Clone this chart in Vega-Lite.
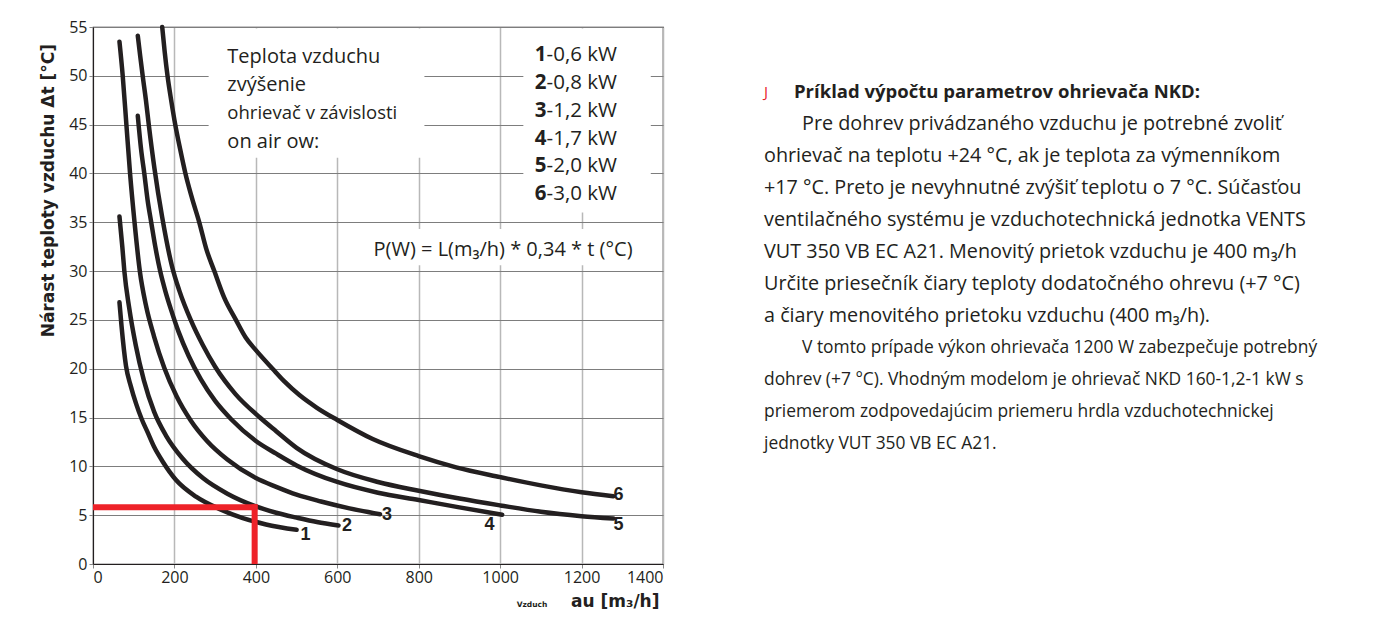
{
  "$schema": "https://vega.github.io/schema/vega-lite/v6.json",
  "background": "white",
  "padding": {"left": 38, "top": 18, "right": 0, "bottom": 0},
  "spacing": 99,
  "datasets": {
    "curves": [
      {"c":"1","x":65,"y":26.8},{"c":"1","x":70,"y":24.4},{"c":"1","x":81,"y":20.3},{"c":"1","x":93,"y":18.2},{"c":"1","x":106,"y":16.4},{"c":"1","x":120,"y":14.8},{"c":"1","x":134,"y":13.5},{"c":"1","x":150,"y":12.0},{"c":"1","x":171,"y":10.5},{"c":"1","x":204,"y":8.6},{"c":"1","x":253,"y":6.9},{"c":"1","x":310,"y":5.65},{"c":"1","x":368,"y":4.7},{"c":"1","x":425,"y":4.05},{"c":"1","x":500,"y":3.5},
      {"c":"2","x":65,"y":35.6},{"c":"2","x":72,"y":32.5},{"c":"2","x":77,"y":30},{"c":"2","x":89,"y":26.2},{"c":"2","x":105,"y":22.4},{"c":"2","x":125,"y":18.8},{"c":"2","x":150,"y":15.6},{"c":"2","x":180,"y":13.1},{"c":"2","x":220,"y":10.8},{"c":"2","x":270,"y":8.8},{"c":"2","x":330,"y":7.2},{"c":"2","x":400,"y":5.9},{"c":"2","x":450,"y":5.25},{"c":"2","x":500,"y":4.75},{"c":"2","x":550,"y":4.3},{"c":"2","x":603,"y":3.95},
      {"c":"3","x":65,"y":53.5},{"c":"3","x":73,"y":50},{"c":"3","x":82,"y":45},{"c":"3","x":91,"y":40},{"c":"3","x":102,"y":35},{"c":"3","x":115,"y":30},{"c":"3","x":130,"y":26.5},{"c":"3","x":150,"y":23.3},{"c":"3","x":175,"y":20.1},{"c":"3","x":205,"y":17.2},{"c":"3","x":240,"y":14.7},{"c":"3","x":280,"y":12.6},{"c":"3","x":330,"y":10.7},{"c":"3","x":400,"y":8.8},{"c":"3","x":450,"y":7.9},{"c":"3","x":500,"y":7.1},{"c":"3","x":560,"y":6.4},{"c":"3","x":630,"y":5.7},{"c":"3","x":705,"y":5.1},
      {"c":"4","x":110,"y":45.9},{"c":"4","x":118,"y":42.5},{"c":"4","x":126,"y":40},{"c":"4","x":134,"y":37.3},{"c":"4","x":143,"y":35},{"c":"4","x":153,"y":32.5},{"c":"4","x":165,"y":30},{"c":"4","x":178,"y":27.9},{"c":"4","x":192,"y":26},{"c":"4","x":210,"y":23.8},{"c":"4","x":235,"y":21.3},{"c":"4","x":265,"y":18.9},{"c":"4","x":300,"y":16.7},{"c":"4","x":340,"y":14.8},{"c":"4","x":400,"y":12.6},{"c":"4","x":450,"y":11.3},{"c":"4","x":500,"y":10.1},{"c":"4","x":600,"y":8.4},{"c":"4","x":700,"y":7.3},{"c":"4","x":800,"y":6.55},{"c":"4","x":900,"y":5.8},{"c":"4","x":1005,"y":5.05},
      {"c":"5","x":110,"y":54.1},{"c":"5","x":116,"y":52},{"c":"5","x":122,"y":50},{"c":"5","x":130,"y":47.5},{"c":"5","x":137,"y":45},{"c":"5","x":151,"y":40.5},{"c":"5","x":170,"y":35.5},{"c":"5","x":194,"y":30.5},{"c":"5","x":212,"y":28},{"c":"5","x":240,"y":25},{"c":"5","x":270,"y":22.4},{"c":"5","x":300,"y":20.2},{"c":"5","x":350,"y":17.4},{"c":"5","x":410,"y":15},{"c":"5","x":450,"y":13.6},{"c":"5","x":500,"y":11.9},{"c":"5","x":600,"y":9.7},{"c":"5","x":700,"y":8.4},{"c":"5","x":800,"y":7.5},{"c":"5","x":900,"y":6.7},{"c":"5","x":1000,"y":6.0},{"c":"5","x":1100,"y":5.35},{"c":"5","x":1200,"y":4.9},{"c":"5","x":1278,"y":4.65},
      {"c":"6","x":170,"y":55},{"c":"6","x":176,"y":52.5},{"c":"6","x":183,"y":50},{"c":"6","x":192,"y":47.5},{"c":"6","x":202,"y":45},{"c":"6","x":214,"y":42.5},{"c":"6","x":227,"y":40},{"c":"6","x":243,"y":37.5},{"c":"6","x":261,"y":35},{"c":"6","x":278,"y":32.3},{"c":"6","x":298,"y":30},{"c":"6","x":322,"y":27.3},{"c":"6","x":351,"y":25},{"c":"6","x":375,"y":23.2},{"c":"6","x":400,"y":21.9},{"c":"6","x":441,"y":20},{"c":"6","x":470,"y":18.7},{"c":"6","x":507,"y":17.3},{"c":"6","x":550,"y":16},{"c":"6","x":600,"y":14.75},{"c":"6","x":687,"y":12.8},{"c":"6","x":800,"y":11.05},{"c":"6","x":892,"y":9.9},{"c":"6","x":1000,"y":8.9},{"c":"6","x":1100,"y":8.05},{"c":"6","x":1200,"y":7.35},{"c":"6","x":1278,"y":6.95}
    ],
    "masks": [
      {"x":284,"x2":814,"y":41.6,"y2":54.85},
      {"x":1057,"x2":1370,"y":36.0,"y2":54.85},
      {"x":685,"x2":1343,"y":30.6,"y2":34.3}
    ],
    "guide": [
      {"x":0,"x2":404,"y":5.8,"y2":5.8},
      {"x":397,"x2":397,"y":0,"y2":6.1}
    ],
    "notes": [
      {"k":"leg","t":"Teplota vzduchu","x":330,"y":51.95},
      {"k":"leg","t":"zvýšenie","x":330,"y":49.05},
      {"k":"legs","t":"ohrievač v závislosti","x":330,"y":46.15},
      {"k":"leg","t":"on air ow:","x":330,"y":43.25},
      {"k":"num","t":"1","x":1114,"y":52.1},
      {"k":"num","t":"2","x":1114,"y":49.25},
      {"k":"num","t":"3","x":1114,"y":46.4},
      {"k":"num","t":"4","x":1114,"y":43.55},
      {"k":"num","t":"5","x":1114,"y":40.75},
      {"k":"num","t":"6","x":1114,"y":37.85},
      {"k":"kw","t":"-0,6 kW","x":1114,"y":52.1},
      {"k":"kw","t":"-0,8 kW","x":1114,"y":49.25},
      {"k":"kw","t":"-1,2 kW","x":1114,"y":46.4},
      {"k":"kw","t":"-1,7 kW","x":1114,"y":43.55},
      {"k":"kw","t":"-2,0 kW","x":1114,"y":40.75},
      {"k":"kw","t":"-3,0 kW","x":1114,"y":37.85},
      {"k":"f","t":"P(W) = L(m₃/h) * 0,34 * t (°C)","x":689,"y":32.2},
      {"k":"lab","t":"1","x":522,"y":3.0},
      {"k":"lab","t":"2","x":624,"y":3.9},
      {"k":"lab","t":"3","x":722,"y":5.06},
      {"k":"lab","t":"4","x":974,"y":4.0},
      {"k":"lab","t":"5","x":1291,"y":4.0},
      {"k":"lab","t":"6","x":1291,"y":7.1},
      {"k":"vz","t":"Vzduch","x":1116,"y":-4.4}
    ],
    "para": [
      {"k":"h","line":1,"indent":0,"t":"Príklad výpočtu parametrov ohrievača NKD:"},
      {"k":"p1","line":2,"indent":1,"t":"Pre dohrev privádzaného vzduchu je potrebné zvoliť"},
      {"k":"p1","line":3,"indent":0,"t":"ohrievač na teplotu +24 °C, ak je teplota za výmenníkom"},
      {"k":"p1","line":4,"indent":0,"t":"+17 °C. Preto je nevyhnutné zvýšiť teplotu o 7 °C. Súčasťou"},
      {"k":"p1","line":5,"indent":0,"t":"ventilačného systému je vzduchotechnická jednotka VENTS"},
      {"k":"p1","line":6,"indent":0,"t":"VUT 350 VB EC A21. Menovitý prietok vzduchu je 400 m₃/h"},
      {"k":"p1","line":7,"indent":0,"t":"Určite priesečník čiary teploty dodatočného ohrevu (+7 °C)"},
      {"k":"p1","line":8,"indent":0,"t":"a čiary menovitého prietoku vzduchu (400 m₃/h)."},
      {"k":"p2","line":9,"indent":1,"t":"V tomto prípade výkon ohrievača 1200 W zabezpečuje potrebný"},
      {"k":"p2","line":10,"indent":0,"t":"dohrev (+7 °C). Vhodným modelom je ohrievač NKD 160-1,2-1 kW s"},
      {"k":"p2","line":11,"indent":0,"t":"priemerom zodpovedajúcim priemeru hrdla vzduchotechnickej"},
      {"k":"p2","line":12,"indent":0,"t":"jednotky VUT 350 VB EC A21."},
      {"k":"b","line":1,"indent":0,"t":"J"}
    ]
  },
  "hconcat": [
    {
      "width": 570,
      "height": 537,
      "view": {"stroke": "#231f20", "strokeWidth": 1.2},
      "encoding": {
        "x": {"field": "x", "type": "quantitative", "title": "au [m₃/h]", "scale": {"domain": [0, 1400], "nice": false}},
        "y": {"field": "y", "type": "quantitative", "title": "Nárast teploty vzduchu Δt [°C]", "scale": {"domain": [0, 55], "nice": false}}
      },
      "layer": [
        {"data": {"name": "masks"}, "mark": {"type": "rect", "fill": "white", "strokeWidth": 0}, "encoding": {"x2": {"field": "x2"}, "y2": {"field": "y2"}}},
        {"data": {"name": "curves"}, "mark": {"type": "line", "interpolate": "monotone", "color": "#231f20", "strokeWidth": 4.5, "strokeCap": "round", "strokeJoin": "round"}, "encoding": {"detail": {"field": "c"}}},
        {"data": {"name": "guide"}, "mark": {"type": "rule", "color": "#ee2229", "strokeWidth": 6, "strokeCap": "butt"}, "encoding": {"x2": {"field": "x2"}, "y2": {"field": "y2"}}},
        {"data": {"name": "notes"}, "transform": [{"filter": "datum.k === 'leg'"}], "mark": {"type": "text", "align": "left", "baseline": "middle", "font": "Open Sans", "fontSize": 20, "color": "#231f20"}, "encoding": {"text": {"field": "t"}}},
        {"data": {"name": "notes"}, "transform": [{"filter": "datum.k === 'legs'"}], "mark": {"type": "text", "align": "left", "baseline": "middle", "font": "Open Sans", "fontSize": 18.5, "color": "#231f20"}, "encoding": {"text": {"field": "t"}}},
        {"data": {"name": "notes"}, "transform": [{"filter": "datum.k === 'num'"}], "mark": {"type": "text", "align": "right", "baseline": "middle", "font": "Open Sans", "fontWeight": "bold", "fontSize": 20.5, "color": "#231f20"}, "encoding": {"text": {"field": "t"}}},
        {"data": {"name": "notes"}, "transform": [{"filter": "datum.k === 'kw'"}], "mark": {"type": "text", "align": "left", "baseline": "middle", "font": "Open Sans", "fontSize": 20.5, "color": "#231f20"}, "encoding": {"text": {"field": "t"}}},
        {"data": {"name": "notes"}, "transform": [{"filter": "datum.k === 'f'"}], "mark": {"type": "text", "align": "left", "baseline": "middle", "font": "Open Sans", "fontSize": 20, "color": "#231f20"}, "encoding": {"text": {"field": "t"}}},
        {"data": {"name": "notes"}, "transform": [{"filter": "datum.k === 'lab'"}], "mark": {"type": "text", "align": "center", "baseline": "middle", "font": "Liberation Sans", "fontWeight": "bold", "fontSize": 18, "color": "#231f20"}, "encoding": {"text": {"field": "t"}}},
        {"data": {"name": "notes"}, "transform": [{"filter": "datum.k === 'vz'"}], "mark": {"type": "text", "align": "right", "baseline": "alphabetic", "font": "DejaVu Sans", "fontWeight": "bold", "fontSize": 7.5, "color": "#231f20"}, "encoding": {"text": {"field": "t"}}}
      ]
    },
    {
      "width": 560,
      "height": 537,
      "view": {"stroke": null},
      "data": {"name": "para"},
      "encoding": {
        "x": {"field": "indent", "type": "quantitative", "axis": null, "scale": {"domain": [0, 1], "range": [0, 38]}},
        "y": {"field": "line", "type": "quantitative", "axis": null, "scale": {"domain": [-1.04, 15.76], "reverse": true}},
        "text": {"field": "t"}
      },
      "layer": [
        {"transform": [{"filter": "datum.k === 'b'"}], "mark": {"type": "text", "align": "left", "baseline": "middle", "font": "Open Sans", "fontSize": 15, "color": "#e8202a"}},
        {"transform": [{"filter": "datum.k === 'h'"}], "mark": {"type": "text", "align": "left", "baseline": "middle", "dx": 30, "font": "Open Sans", "fontWeight": "bold", "fontSize": 18.5, "color": "#231f20"}},
        {"transform": [{"filter": "datum.k === 'p1'"}], "mark": {"type": "text", "align": "left", "baseline": "middle", "font": "Open Sans", "fontSize": 19.8, "color": "#231f20"}},
        {"transform": [{"filter": "datum.k === 'p2'"}], "mark": {"type": "text", "align": "left", "baseline": "middle", "font": "Open Sans", "fontSize": 17.4, "color": "#231f20"}}
      ]
    }
  ],
  "config": {
    "axisX": {
      "tickCount": 7, "format": "d", "labelFont": "Open Sans", "labelFontSize": 16, "labelColor": "#231f20", "labelPadding": 1,
      "tickSize": 4, "tickColor": "#888888", "domainColor": "#231f20", "gridColor": "#b8b8b8", "gridWidth": 1.5,
      "titleFont": "DejaVu Sans", "titleFontSize": 17, "titleFontWeight": "bold", "titleColor": "#231f20",
      "titleAlign": "right", "titleBaseline": "alphabetic", "titleX": 566, "titleY": 42
    },
    "axisY": {
      "tickCount": 11, "labelFont": "Open Sans", "labelFontSize": 16, "labelColor": "#231f20", "labelPadding": 2,
      "tickSize": 4, "tickColor": "#888888", "domainColor": "#231f20", "gridColor": "#7d7d7d", "gridWidth": 1,
      "titleFont": "DejaVu Sans", "titleFontSize": 17, "titleFontWeight": "bold", "titleColor": "#231f20",
      "titleAngle": 270, "titleAlign": "right", "titleBaseline": "alphabetic", "titleX": -40, "titleY": 16.5
    }
  }
}
